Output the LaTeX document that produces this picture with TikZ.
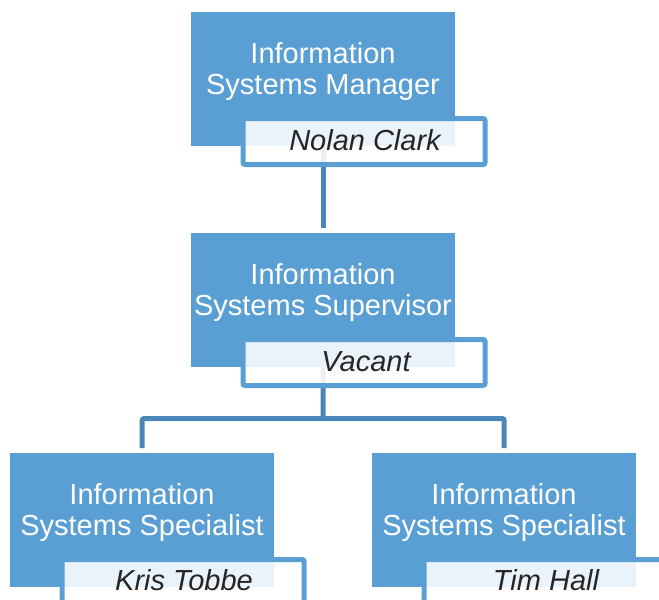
\documentclass[tikz,border=0pt]{standalone}
\usepackage{fontspec}
\setmainfont{Liberation Sans}
\definecolor{boxblue}{RGB}{90,159,212}
\definecolor{linkblue}{RGB}{74,135,183}
\definecolor{darktext}{RGB}{38,38,38}
\begin{document}
\begin{tikzpicture}[x=1pt,y=-1pt,
  rolebox/.style={fill=boxblue, minimum width=264pt, minimum height=134pt, inner sep=0pt, anchor=north west},
  roletext/.style={text=white, font=\fontsize{29}{31}\selectfont, anchor=base, inner sep=0pt},
  namebox/.style={draw=boxblue, fill=white, fill opacity=0.88, line width=5pt, rounded corners=2pt, minimum width=242pt, minimum height=46pt, inner sep=0pt},
  nametext/.style={text=darktext, font=\fontsize{29}{31}\selectfont\itshape, anchor=base, inner sep=0pt},
  link/.style={draw=linkblue, line width=5pt}]
\useasboundingbox (0,0) rectangle (659,600);
\clip (0,0) rectangle (659,600);
% role boxes
\node[rolebox] (r1) at (191,12) {};
\node[rolebox] (r2) at (191,233) {};
\node[rolebox] (r3) at (10,453) {};
\node[rolebox] (r4) at (372,453) {};
% connectors
\coordinate (bus) at (323,418.5);
\draw[link] (r1.south) -- ([yshift=5pt]r2.north);
\draw[link] (r2.south) -- (bus);
\draw[link, rounded corners=2pt] ([yshift=5pt]r3.north) |- (bus) -| ([yshift=5pt]r4.north);
% titles
\node[roletext] (h1a) at (323,63.5) {Information};
\node[roletext] (h1b) at (323,94.5) {Systems Manager};
\node[roletext] (h2a) at (323,284.5) {Information};
\node[roletext] (h2b) at (323,315.5) {Systems Supervisor};
\node[roletext] (h3a) at (142,504.5) {Information};
\node[roletext] (h3b) at (142,535.5) {Systems Specialist};
\node[roletext] (h4a) at (504,504.5) {Information};
\node[roletext] (h4b) at (504,535.5) {Systems Specialist};
% name boxes
\node[namebox] (n1) at (364,141.5) {};
\node[namebox] (n2) at (364,362.5) {};
\node[namebox] (n3) at (183,582.5) {};
\node[namebox] (n4) at (545,582.5) {};
\node[nametext] (t1) at (365,150) {Nolan Clark};
\node[nametext] (t2) at (366,371) {Vacant};
\node[nametext] (t3) at (184,590) {Kris Tobbe};
\node[nametext] (t4) at (546,590) {Tim Hall};
\end{tikzpicture}
\end{document}
